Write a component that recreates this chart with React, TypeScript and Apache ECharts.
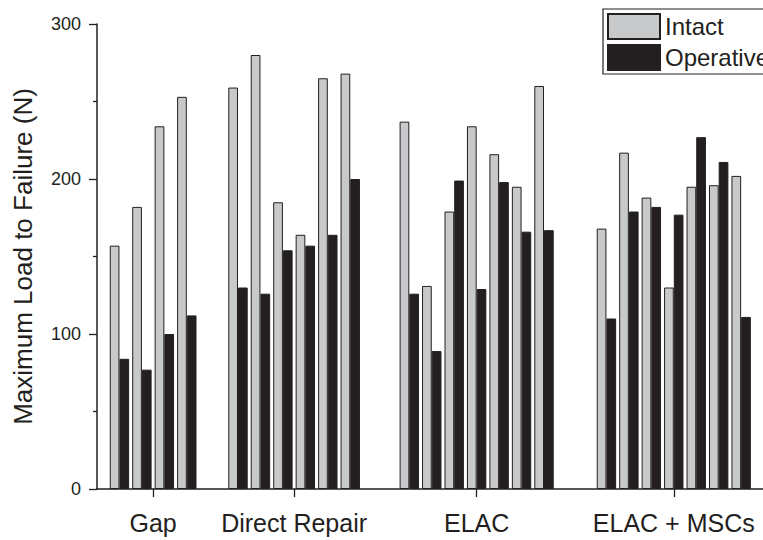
import React, { useEffect, useRef } from 'react';
import * as echarts from 'echarts';

// ---- data ----
const categories = ['Gap', 'Direct Repair', 'ELAC', 'ELAC + MSCs'];
const intactGap = [157, 182, 234, 253];
const operativeGap = [84, 77, 100, 112];
const intactDirect = [259, 280, 185, 164, 265, 268];
const operativeDirect = [130, 126, 154, 157, 164, 200];
const intactELAC = [237, 131, 179, 234, 216, 195, 260];
const operativeELAC = [126, 89, 199, 129, 198, 166, 167];
const intactMSC = [168, 217, 188, 130, 195, 196, 202];
const operativeMSC = [110, 179, 182, 177, 227, 211, 111];
const yTicks = [0, 100, 200, 300];

// ---- layout (x-axis slot positions of each group's first pair) ----
const groupStarts = [1, 6.28, 13.91, 22.69];

const intactGroups = [intactGap, intactDirect, intactELAC, intactMSC];
const operativeGroups = [operativeGap, operativeDirect, operativeELAC, operativeMSC];

function toPoints(groups: number[][]) {
  const pts: number[][] = [];
  groups.forEach((g, gi) => {
    g.forEach((v, i) => pts.push([groupStarts[gi] + i, v]));
  });
  return pts;
}

const centers = intactGroups.map((g, gi) => groupStarts[gi] + (g.length - 1) / 2);

const FONT = '"Liberation Sans", Arial, Helvetica, sans-serif';
const TEXT = '#231f20';

export default function App() {
  const ref = useRef<HTMLDivElement>(null);
  useEffect(() => {
    const chart = echarts.init(ref.current!, null, { renderer: 'svg' });
    const option: any = {
      animation: false,
      backgroundColor: '#ffffff',
      textStyle: { fontFamily: FONT },
      grid: { left: 97, top: 24, right: 7, bottom: 51, containLabel: false },
      legend: {
        data: ['Intact', 'Operative'],
        orient: 'vertical',
        left: 603,
        top: 9,
        itemWidth: 52,
        itemHeight: 25,
        itemGap: 4,
        padding: [4, 8, 3, 4],
        borderColor: TEXT,
        borderWidth: 1.2,
        icon: 'rect',
        textStyle: { fontSize: 24, lineHeight: 25, color: TEXT, fontFamily: FONT },
      },
      xAxis: {
        type: 'value',
        min: 0,
        max: 31,
        axisLine: { show: true, lineStyle: { color: TEXT, width: 1.5 } },
        axisTick: { show: true, inside: false, length: 8, customValues: centers, lineStyle: { color: TEXT, width: 1.3 } },
        axisLabel: {
          show: true,
          customValues: centers,
          margin: 21,
          fontSize: 25,
          color: TEXT,
          fontFamily: FONT,
          formatter: (v: number) => {
            let best = 0;
            centers.forEach((c, i) => {
              if (Math.abs(c - v) < Math.abs(centers[best] - v)) best = i;
            });
            return categories[best];
          },
        },
        splitLine: { show: false },
      },
      yAxis: {
        type: 'value',
        min: yTicks[0],
        max: yTicks[yTicks.length - 1],
        interval: 100,
        name: 'Maximum Load to Failure (N)',
        nameLocation: 'middle',
        nameGap: 61,
        nameTextStyle: { fontSize: 26, color: TEXT, fontFamily: FONT },
        axisLine: { show: true, lineStyle: { color: TEXT, width: 1.5 } },
        axisTick: { show: true, inside: false, length: 8, lineStyle: { color: TEXT, width: 1.3 } },
        minorTick: { show: true, splitNumber: 2, length: 4, lineStyle: { color: TEXT, width: 1.3 } },
        axisLabel: { margin: 16, fontSize: 18, color: TEXT, fontFamily: FONT },
        splitLine: { show: false },
      },
      series: [
        {
          name: 'Intact',
          type: 'bar',
          data: toPoints(intactGroups),
          barWidth: 9.7,
          barGap: '0%',
          itemStyle: { color: '#c8c9cb', borderColor: TEXT, borderWidth: 1 },
        },
        {
          name: 'Operative',
          type: 'bar',
          data: toPoints(operativeGroups),
          barWidth: 9.7,
          barGap: '0%',
          itemStyle: { color: '#231f20', borderColor: TEXT, borderWidth: 1 },
        },
      ],
    };
    chart.setOption(option);
    return () => chart.dispose();
  }, []);
  return (
    <div style={{ position: 'fixed', left: 0, top: 0, width: 763, height: 540, overflow: 'hidden', background: '#fff' }}>
      <div ref={ref} style={{ width: 800, height: 540 }} />
    </div>
  );
}
